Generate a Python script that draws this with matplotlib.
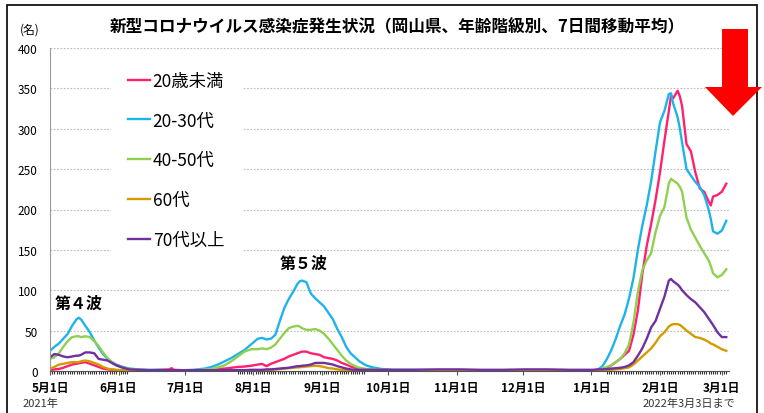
import numpy as np
import pandas as pd
import matplotlib
matplotlib.use('Agg')
import matplotlib.pyplot as plt
from matplotlib.patches import Polygon, Rectangle

plt.rcParams['font.family'] = ['Noto Sans CJK JP', 'DejaVu Sans']

start = pd.Timestamp('2021-05-01')

# days since 2021-05-01
days = [0, 2, 4, 6, 8, 10, 12, 13, 14, 16, 18, 20, 22, 24, 26, 28, 30, 33, 36, 40, 45, 50, 54, 55, 56, 60, 65,
        70, 73, 76, 79, 82, 85, 88, 91, 94, 96, 98, 100, 102, 104, 106, 108, 110, 112, 113, 114, 116, 118, 120,
        122, 124, 126, 128, 130, 132, 134, 136, 138, 140, 143, 146, 150, 155,
        165, 175, 185, 195, 205, 215, 225, 235, 242,
        246, 248, 250, 252, 254, 256, 258, 260, 262, 264, 266, 268, 270, 272, 274, 276, 278, 280, 281, 282,
        284, 285, 286, 288, 290, 292, 294, 296, 298, 299, 300, 302, 304, 306]

under20 = [1, 2, 2.5, 4, 6, 8, 9, 9.5, 10, 11, 9, 7, 5, 3, 2, 1.5, 1, 1, 0.8, 1, 1, 1.5, 2, 3.5, 1.5, 1, 1,
           1.5, 2, 2.5, 3, 4, 5, 5.5, 6.5, 8, 8.7, 6, 9, 11, 13, 15, 18, 20, 22, 23, 24, 24, 22, 21,
           20, 17, 16, 15, 13, 10, 8, 5.5, 4, 3, 2, 1.5, 1, 1,
           1, 0.5, 0.5, 0.5, 0.5, 0.5, 0.5, 0.5, 0.5,
           0.5, 1, 2, 4, 7, 11, 15, 20, 25, 45, 75, 120, 155, 182, 212, 246, 285, 322, 341, 338,
           347, 340, 328, 281, 272, 246, 226, 222, 210, 205, 216, 218, 222, 232]

age20_30 = [25, 30, 34, 40, 46, 56, 64, 66, 64, 56, 48, 38, 29, 21, 15, 11, 8, 5, 3, 2, 1.5, 1.5, 1, 1, 1, 1, 1.5,
            3, 5, 8, 12, 16, 21, 26, 33, 40, 41, 39, 40, 45, 62, 78, 89, 98, 108, 111, 112, 110, 96, 90,
            85, 80, 72, 64, 52, 42, 30, 22, 17, 12, 7, 4.5, 2.5, 1.5,
            1.5, 1, 1, 1, 1, 1, 1, 1, 1,
            1, 2, 6, 15, 26, 40, 56, 70, 90, 115, 150, 180, 205, 235, 272, 308, 322, 343, 344, 331,
            314, 300, 283, 250, 242, 234, 228, 218, 200, 188, 173, 170, 174, 186]

age40_50 = [15, 17, 22, 30, 37, 42, 43, 43, 42, 43, 42, 37, 31, 23, 16, 11, 7, 4, 2.5, 1.5, 1, 1, 1, 1, 1, 1, 1,
            1.5, 2.5, 4.5, 7, 12, 18, 24, 27, 27, 28, 27, 29, 33, 40, 47, 53, 55, 56, 55, 53, 51, 51, 52,
            50, 46, 40, 33, 26, 19, 13, 9, 6, 4, 2.5, 2, 1.5, 1,
            1, 1, 1, 1, 1, 1, 1, 1, 0.5,
            0.5, 1.5, 3, 5, 7, 11, 15, 22, 33, 60, 98, 125, 137, 146, 172, 192, 203, 232, 238, 236,
            232, 228, 222, 190, 175, 165, 155, 146, 137, 130, 121, 116, 119, 126]

age60 = [3, 5, 8, 9, 10, 11, 11, 11, 12, 13, 12, 10, 8, 5, 3, 2, 1.5, 1, 0.8, 0.5, 0.5, 0.5, 0.5, 0.5, 0.5, 0.5, 0.5,
         0.5, 0.5, 0.5, 0.5, 0.5, 0.5, 0.5, 0.5, 1, 1, 1, 1.5, 2, 2.5, 3, 3.5, 4, 4.5, 4.5, 5, 5.5, 6, 6.5,
         6, 5, 3.5, 3, 2, 1.5, 1, 1, 0.8, 0.5, 0.5, 0.5, 0.5, 0.5,
         0.5, 0.5, 0.5, 0.5, 0.5, 0.5, 0.5, 0.5, 0.5,
         0.5, 0.5, 1, 1, 1.5, 2, 2.5, 3.5, 4.5, 8, 13, 18, 23, 28, 35, 43, 48, 55, 57, 58,
         58, 57, 55, 50, 46, 42, 41, 39, 36, 34, 33, 30, 27, 25]

age70 = [17, 21, 20, 18, 17, 18, 19, 19, 20, 23, 23, 22, 15, 14, 13, 10, 7, 4, 2, 1.5, 1, 1, 1, 1, 1, 1, 1,
         1, 1, 1, 1, 1, 1, 1, 1.5, 1.5, 1.5, 2, 2, 2.5, 3, 3.5, 4, 5, 6, 6, 6.5, 7, 8, 10,
         10, 10, 9, 8, 6, 4.5, 3, 2, 1.5, 1.5, 1.5, 1.5, 1.5, 1.5,
         1.5, 2, 2, 1.5, 1.5, 2, 2, 1.5, 1.5,
         1.5, 2, 2, 2.5, 3, 3.5, 4, 5, 7, 11, 19, 28, 40, 54, 62, 77, 92, 112, 114, 111,
         107, 104, 100, 94, 89, 85, 79, 73, 65, 61, 57, 48, 42, 42]

labels = ['20歳未満', '20-30代', '40-50代', '60代', '70代以上']
colors = ['#FF2070', '#1EB4EA', '#8FD14F', '#D49B00', '#7030A0']
series = [under20, age20_30, age40_50, age60, age70]

dates = start + pd.to_timedelta(days, unit='D')

W, H = 764, 414
fig = plt.figure(figsize=(W / 100, H / 100), dpi=100)
ax = fig.add_axes([50 / W, 42 / H, 678.5 / W, 323 / H])

for vals, lab, col in zip(series, labels, colors):
    ax.plot(dates, vals, color=col, lw=1.7, label=lab)

ax.set_xlim(start, start + pd.Timedelta(days=307))
ax.set_ylim(0, 400)

months = pd.date_range('2021-05-01', '2022-03-01', freq='MS')
ax.set_xticks(months, [f'{d.month}月1日' for d in months], fontweight='bold', fontsize=8.5)
minor = pd.date_range('2021-05-01', '2021-06-05').append(
    pd.date_range('2021-07-25', '2021-09-20')).append(pd.date_range('2022-01-08', '2022-03-03'))
ax.set_xticks(minor, minor=True)
ax.tick_params(axis='x', which='major', length=3, color='#555555', pad=4)
ax.tick_params(axis='x', which='minor', length=2.5, color='#333333', width=0.8)

ax.set_yticks(range(0, 401, 50))
ax.tick_params(axis='y', length=0, pad=9, labelsize=8.5)
ax.yaxis.grid(True, linestyle=(0, (1.5, 1.5)), color='#bbbbbb', lw=0.8)
ax.set_axisbelow(True)

for s in ['top', 'right']:
    ax.spines[s].set_visible(False)
ax.spines['left'].set_color('#999999')
ax.spines['bottom'].set_color('#555555')

leg = ax.legend(loc='upper left', bbox_to_anchor=(0.09, 0.98), borderaxespad=0, fontsize=12.5,
                handlelength=1.25, handletextpad=0.15, labelspacing=1.25, borderpad=1.0,
                frameon=True, fancybox=False, framealpha=1)
leg.get_frame().set_edgecolor('none')
leg.get_frame().set_facecolor('white')

ax.text(start + pd.Timedelta(days=13), 85, '第４波', ha='center', va='center', fontsize=11.5, fontweight='bold')
ax.text(start + pd.Timedelta(days=115), 134, '第５波', ha='center', va='center', fontsize=11.5, fontweight='bold')

fig.text(397 / W, 1 - 27 / H, '新型コロナウイルス感染症発生状況（岡山県、年齢階級別、7日間移動平均）',
         ha='center', va='center', fontsize=12, fontweight='bold')
fig.text(30 / W, 1 - 30 / H, '(名)', ha='center', va='center', fontsize=8.5)
fig.text(40 / W, 1 - 404 / H, '2021年', ha='center', va='center', fontsize=8, color='#333333')
fig.text(735 / W, 1 - 404 / H, '2022年3月3日まで', ha='right', va='center', fontsize=8, color='#333333')

# outer frame
fig.patches.append(Rectangle((7 / W, -0.05), 750 / W, 1.05 - 6 / H, transform=fig.transFigure,
                             fill=False, edgecolor='black', lw=1.2))

# red arrow
arrow_px = [(722, 30), (748, 30), (748, 88), (762, 88), (733, 117), (705, 88), (722, 88)]
fig.patches.append(Polygon([(x / W, 1 - y / H) for x, y in arrow_px], closed=True,
                           transform=fig.transFigure, facecolor='red', edgecolor='none'))

fig.savefig('out.png', dpi=100)
